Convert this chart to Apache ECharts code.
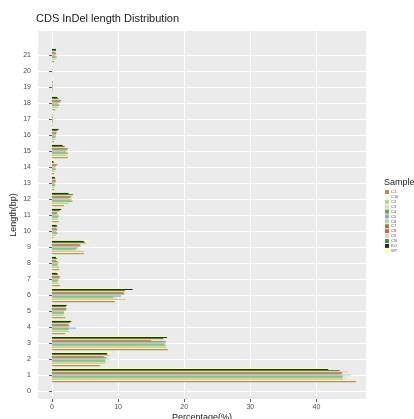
<!DOCTYPE html>
<html>
<head>
<meta charset="utf-8">
<script src="https://cdn.jsdelivr.net/npm/echarts@6/dist/echarts.min.js"></script>
<style>
  html, body { margin: 0; padding: 0; background: #ffffff; }
  #chart { width: 414px; height: 419px; }
</style>
</head>
<body>
<div id="chart"></div>
<script>
// InDel lengths (bp) plotted on the vertical axis
const lengths = ['1','2','3','4','5','6','7','8','9','10','11','12','13','14','15','16','17','18','19','20','21'];
// Tick labels for the length axis; the last slot is padding with no label
const lengthTicks = ['0','1','2','3','4','5','6','7','8','9','10','11','12','13','14','15','16','17','18','19','20','21',''];
// Percentage-axis tick labels
const percentTicks = [0, 10, 20, 30, 40];

// Samples in legend order
const samples = ['C1','C10','C2','C3','C4','C5','C6','C7','C8','C9','CN','KO','WT'];
const sampleColors = ['#c8873a','#f6f6ee','#b8d878','#cbe8bc','#6aa832','#7fb0d8','#a8dca0','#a87430','#d0662a','#f2c2da','#3a9a3a','#0b3b1b','#ffff99'];

// Percentage of CDS InDels at each length, per sample
const C1  = [46.0, 7.3, 17.5, 2.0, 2.0,  9.5, 1.2, 1.1, 4.8, 0.2, 1.0, 1.8, 0.3, 0.3, 2.4, 0.3, 0.10, 0.5, 0.05, 0.03, 0.3];
const C10 = [45.0, 7.6, 16.9, 2.3, 1.8, 10.2, 0.7, 0.7, 4.5, 0.3, 0.9, 2.2, 0.2, 0.3, 2.0, 0.3, 0.05, 0.6, 0.10, 0.05, 0.4];
const C2  = [44.0, 8.0, 17.3, 2.6, 1.7, 11.1, 1.0, 1.1, 4.9, 0.6, 0.8, 2.5, 0.3, 0.4, 2.2, 0.5, 0.10, 0.9, 0.10, 0.05, 0.5];
const C3  = [44.5, 8.5, 17.0, 2.4, 1.9,  9.8, 0.9, 1.0, 4.2, 0.5, 1.0, 2.6, 0.4, 0.5, 2.3, 0.4, 0.20, 0.8, 0.15, 0.05, 0.6];
const C4  = [43.9, 8.1, 17.2, 2.5, 1.8,  9.3, 0.8, 0.8, 3.6, 0.8, 0.9, 3.1, 0.5, 0.6, 2.4, 0.5, 0.15, 1.1, 0.10, 0.05, 0.7];
const C5  = [44.0, 8.0, 17.0, 3.6, 1.8, 10.4, 1.0, 0.9, 3.9, 0.7, 1.1, 2.8, 0.4, 0.4, 2.1, 0.6, 0.10, 0.9, 0.10, 0.05, 0.5];
const C6  = [45.2, 8.6, 17.3, 2.4, 1.9, 10.5, 0.9, 1.1, 4.0, 0.6, 1.0, 3.0, 0.5, 0.5, 2.3, 0.5, 0.20, 1.0, 0.15, 0.05, 0.7];
const C7  = [43.8, 8.2, 17.2, 2.6, 2.1, 10.9, 1.1, 0.9, 4.3, 0.8, 0.7, 2.7, 0.5, 0.6, 2.2, 0.6, 0.10, 1.2, 0.10, 0.05, 0.6];
const C8  = [43.9, 7.8, 15.0, 2.5, 2.2, 10.8, 1.2, 0.6, 4.2, 0.7, 0.8, 2.9, 0.6, 0.8, 2.4, 0.7, 0.10, 1.4, 0.10, 0.03, 0.5];
const C9  = [44.8, 8.8, 17.0, 2.6, 2.0, 11.1, 1.0, 0.7, 5.2, 0.6, 0.9, 3.0, 0.3, 0.4, 2.0, 0.6, 0.05, 0.9, 0.05, 0.03, 0.5];
const CN  = [43.5, 8.4, 16.8, 2.7, 2.1, 11.0, 0.9, 0.8, 5.0, 0.8, 1.2, 3.2, 0.5, 0.3, 1.9, 0.8, 0.10, 1.0, 0.10, 0.05, 0.6];
const KO  = [41.8, 8.3, 17.4, 2.9, 2.2, 12.2, 0.8, 0.6, 4.8, 0.7, 1.4, 2.5, 0.4, 0.2, 1.6, 1.0, 0.00, 0.8, 0.05, 0.00, 0.6];
const WT  = [42.2, 9.0, 17.6, 3.0, 2.0, 11.0, 0.9, 1.0, 5.9, 0.5, 1.3, 3.3, 0.4, 0.5, 1.8, 0.9, 0.10, 0.7, 0.10, 0.05, 0.4];

const sampleValues = [C1, C10, C2, C3, C4, C5, C6, C7, C8, C9, CN, KO, WT];

const chart = echarts.init(document.getElementById('chart'), null, { renderer: 'canvas' });

const textGrey = '#4d4d4d';
const panelFill = '#ebebeb';
const lastTick = lengthTicks.length - 1;

// Horizontal bars stack from the top of each band, so the series are
// added in reverse to keep C1 lowest and WT highest within a group.
const series = [];
for (let i = samples.length - 1; i >= 0; i--) {
  series.push({
    name: samples[i],
    type: 'bar',
    barGap: '0%',
    barCategoryGap: '10%',
    itemStyle: { color: sampleColors[i] },
    emphasis: { disabled: true },
    data: lengths.map((len, k) => [sampleValues[i][k], len])
  });
}

const option = {
  animation: false,
  backgroundColor: '#ffffff',
  textStyle: { fontFamily: 'Liberation Sans, Arial, sans-serif' },
  title: [
    {
      text: 'CDS InDel length Distribution',
      left: 36, top: 13,
      padding: 0,
      textStyle: { fontSize: 11, fontWeight: 'normal', color: '#1a1a1a', fontFamily: 'Liberation Sans' }
    },
    {
      text: 'Sample',
      left: 384, top: 178,
      padding: 0,
      textStyle: { fontSize: 9, fontWeight: 'normal', color: '#1a1a1a', fontFamily: 'Liberation Sans' }
    }
  ],
  legend: {
    orient: 'vertical',
    left: 385, top: 190,
    padding: 0,
    itemWidth: 4, itemHeight: 4, itemGap: 0.9,
    icon: 'rect',
    data: samples,
    selectedMode: false,
    textStyle: { fontSize: 4, lineHeight: 4, color: textGrey, padding: [0, 0, 0, -3] }
  },
  grid: {
    left: 38, right: 48, top: 31, bottom: 20,
    outerBoundsMode: 'none',
    containLabel: false,
    show: true,
    backgroundColor: panelFill,
    borderWidth: 0
  },
  xAxis: {
    type: 'value',
    min: -2.12, max: 47.5,
    name: 'Percentage(%)',
    nameLocation: 'middle',
    nameGap: 14,
    nameMoveOverlap: false,
    nameTextStyle: { fontSize: 9, color: '#1a1a1a' },
    axisLine: { show: false },
    axisTick: { show: true, length: 3, customValues: percentTicks, lineStyle: { color: '#333333', width: 0.8 } },
    axisLabel: { customValues: percentTicks, fontSize: 7, color: textGrey, margin: 5 },
    splitLine: { show: true, lineStyle: { color: '#ffffff', width: 1.1 } }
  },
  yAxis: {
    type: 'category',
    data: lengthTicks,
    name: 'Length(bp)',
    nameLocation: 'middle',
    nameGap: 20,
    nameRotate: 90,
    nameMoveOverlap: false,
    nameTextStyle: { fontSize: 9, color: '#1a1a1a' },
    axisLine: { show: false },
    axisTick: {
      show: true, length: 3, alignWithLabel: true,
      interval: (idx) => idx !== lastTick,
      lineStyle: { color: '#333333', width: 0.8 }
    },
    axisLabel: {
      fontSize: 7, color: textGrey, margin: 7,
      interval: (idx) => idx !== lastTick
    },
    splitLine: {
      show: true, alignWithLabel: true,
      interval: (idx) => idx !== lastTick,
      lineStyle: { color: '#ffffff', width: 1.1 }
    }
  },
  series: series
};

chart.setOption(option);
</script>
</body>
</html>
